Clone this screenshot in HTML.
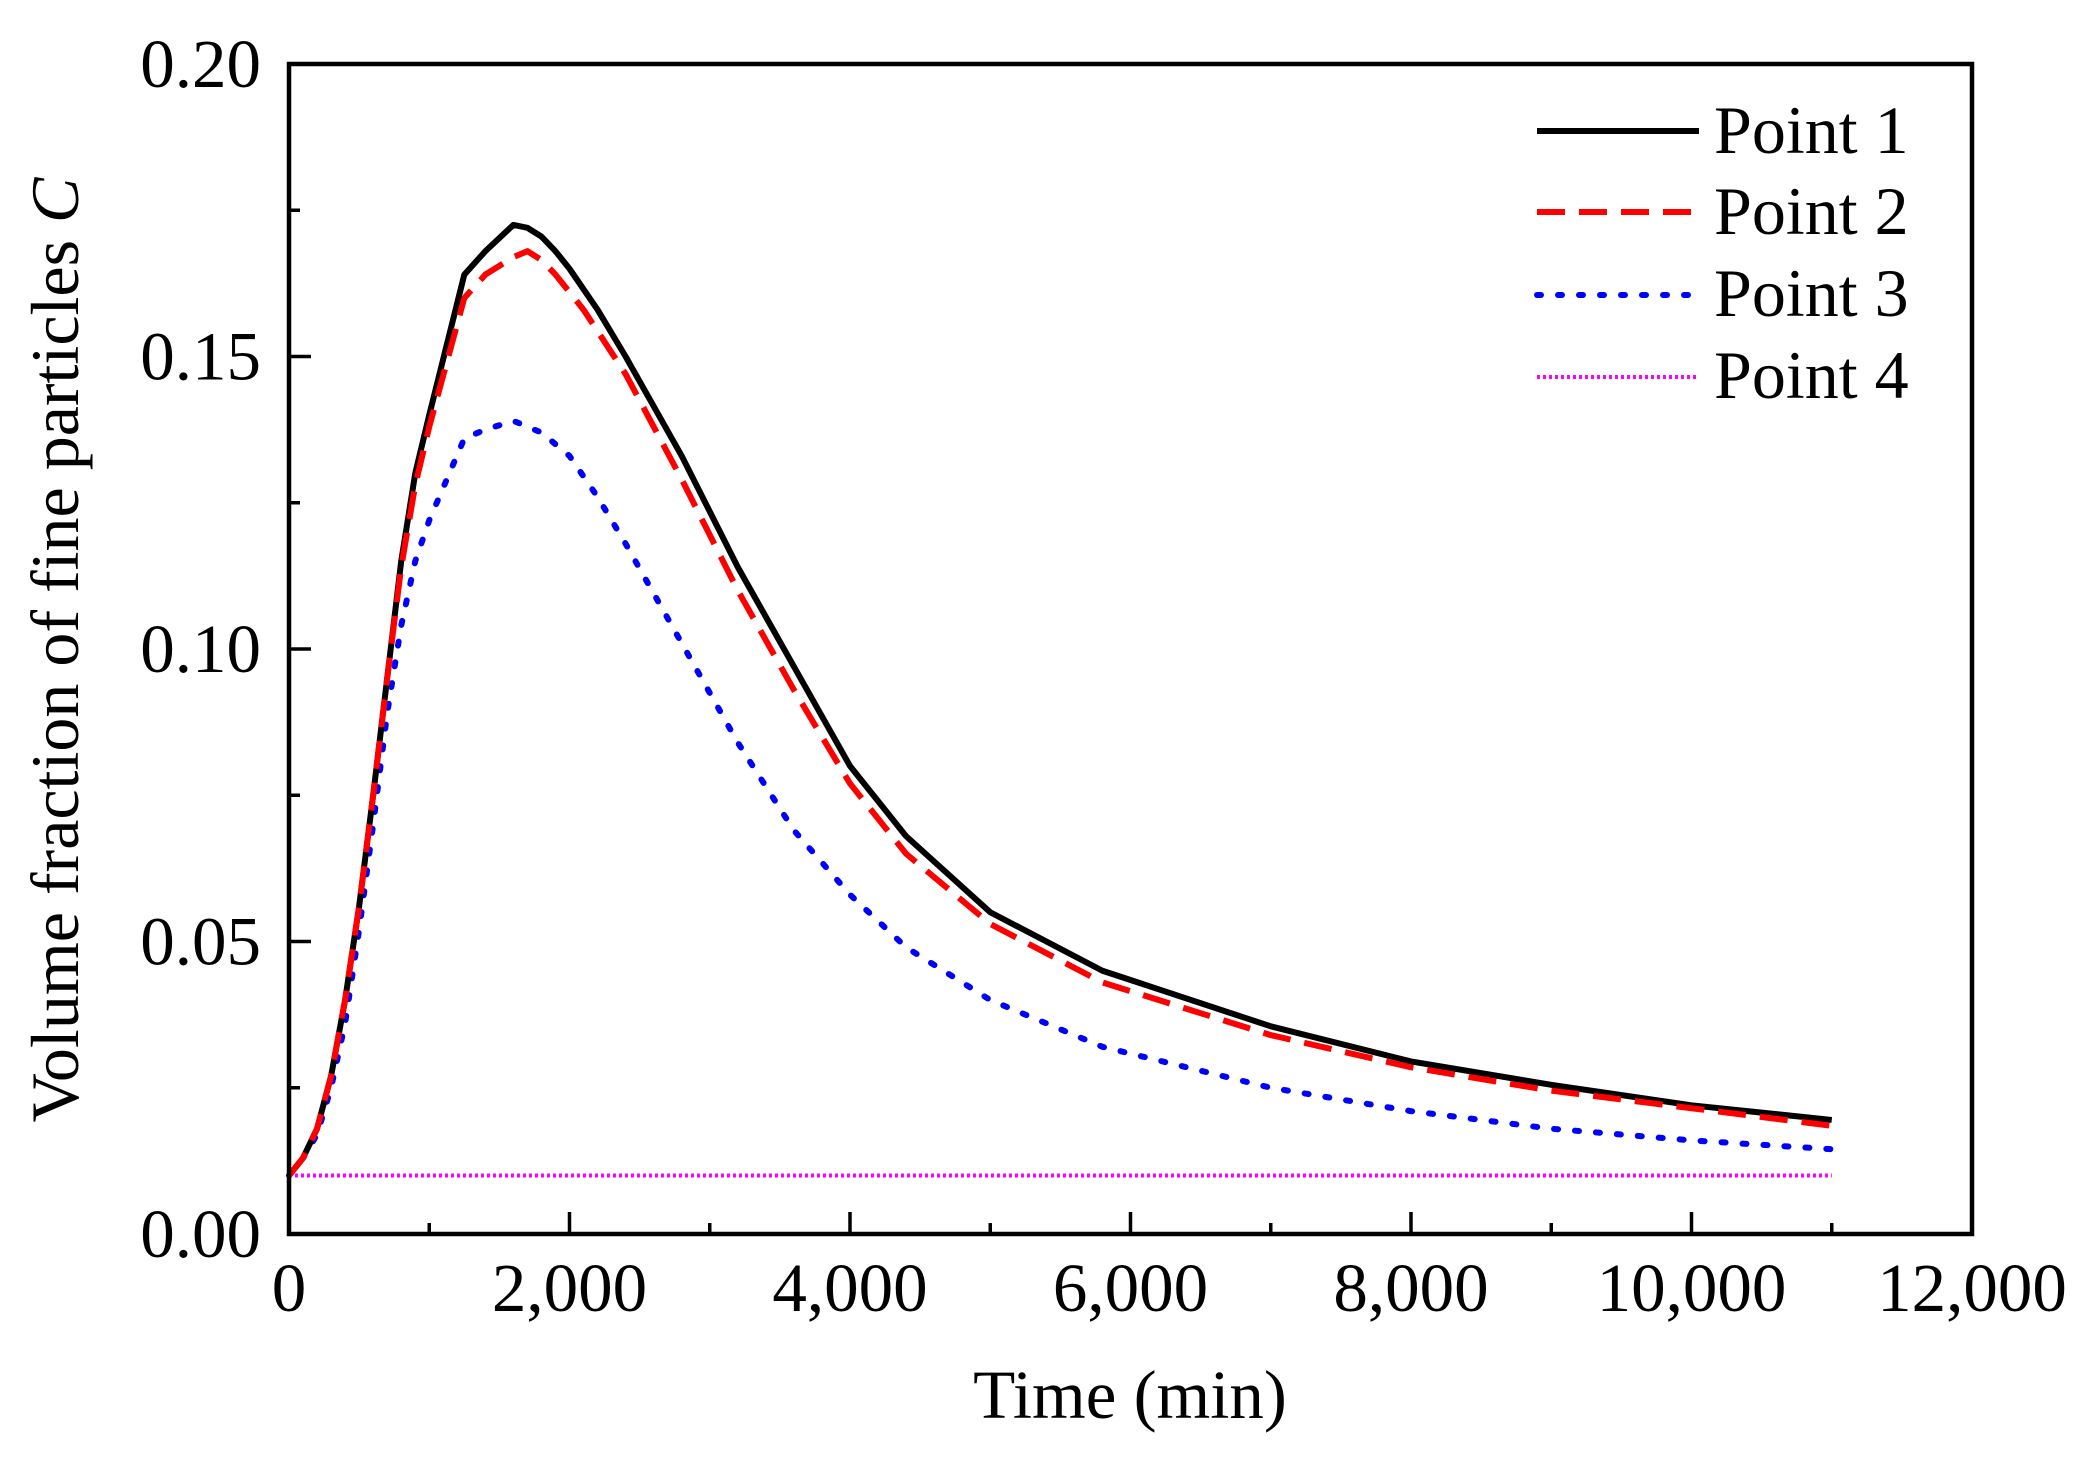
<!DOCTYPE html>
<html><head><meta charset="utf-8"><style>
html,body{margin:0;padding:0;background:#fff;}
svg{display:block;font-family:"Liberation Serif",serif;}
</style></head><body>
<svg id="s" width="2081" height="1459" viewBox="0 0 2081 1459" xmlns="http://www.w3.org/2000/svg">
<rect width="2081" height="1459" fill="#fff"/>
<g id="data"></g>
<rect x="289" y="64" width="1683" height="1170" fill="none" stroke="#000" stroke-width="4.5"/>
<g id="ticks" stroke="#000" stroke-width="3.5"></g>
<g font-size="69" fill="#000">
<g text-anchor="middle" id="xl"></g>
<g text-anchor="end" id="yl"></g>
<text x="1130" y="1418" text-anchor="middle">Time (min)</text>
<text transform="translate(78,650) rotate(-90)" text-anchor="middle" font-size="68">Volume fraction of fine particles <tspan font-style="italic">C</tspan></text>
<g font-size="68">
<text x="1714" y="153">Point 1</text>
<text x="1714" y="234">Point 2</text>
<text x="1714" y="316">Point 3</text>
<text x="1714" y="398">Point 4</text>
</g>
</g>
<line x1="1537" y1="131" x2="1699" y2="131" stroke="#000" stroke-width="6"/>
<line x1="1537" y1="212" x2="1699" y2="212" stroke="#f00" stroke-width="6" stroke-dasharray="28,14"/>
<line x1="1537" y1="295" x2="1699" y2="295" stroke="#00f" stroke-width="6" stroke-dasharray="4,17" stroke-linecap="round"/>
<line x1="1537" y1="377" x2="1699" y2="377" stroke="#f0f" stroke-width="4" stroke-dasharray="3,3"/>
</svg>
<script>
var NS="http://www.w3.org/2000/svg";
function X(t){return 289+t*1683/12000;}
function Y(c){return 1234-c*5850;}
function el(p,tag,a,txt){var e=document.createElementNS(NS,tag);for(var k in a)e.setAttribute(k,a[k]);if(txt!==undefined)e.textContent=txt;p.appendChild(e);return e;}
var tk=document.getElementById('ticks');
for(var t=1000;t<12000;t+=1000){var L=(t%2000==0)?22:11;el(tk,'line',{x1:X(t),y1:1234,x2:X(t),y2:1234-L});}
for(var i=1;i<8;i++){var c=i*0.025;var L=(i%2==0)?22:11;el(tk,'line',{x1:289,y1:Y(c),x2:289+L,y2:Y(c)});}
var xl=document.getElementById('xl');
var xs=["0","2,000","4,000","6,000","8,000","10,000","12,000"];
for(var i=0;i<7;i++)el(xl,'text',{x:X(i*2000),y:1311},xs[i]);
var yl=document.getElementById('yl');
var ys=["0.00","0.05","0.10","0.15","0.20"];
for(var i=0;i<5;i++)el(yl,'text',{x:261,y:Y(i*0.05)+23},ys[i]);
function path(pts){var d="M"+X(pts[0][0])+","+Y(pts[0][1]);
for(var i=1;i<pts.length;i++){d+=" L"+X(pts[i][0])+","+Y(pts[i][1]);}return d;}
var p1=[[0,0.010],[100,0.013],[200,0.018],[300,0.027],[400,0.040],[500,0.056],[600,0.075],[700,0.095],[800,0.115],[900,0.130],[1000,0.140],[1250,0.164],[1400,0.168],[1600,0.1725],[1700,0.172],[1800,0.1705],[1900,0.168],[2000,0.165],[2200,0.158],[2400,0.150],[2800,0.133],[3200,0.114],[3600,0.097],[4000,0.080],[4400,0.068],[5000,0.055],[5800,0.045],[7000,0.0355],[8000,0.0295],[9000,0.0255],[10000,0.022],[11000,0.0195]];
var p2=[[0,0.010],[100,0.013],[200,0.018],[300,0.027],[400,0.040],[500,0.056],[600,0.075],[700,0.095],[800,0.114],[900,0.128],[1000,0.138],[1250,0.160],[1400,0.164],[1600,0.167],[1700,0.168],[1800,0.1665],[1900,0.164],[2100,0.158],[2400,0.147],[2800,0.129],[3200,0.110],[3600,0.093],[4000,0.077],[4400,0.065],[5000,0.053],[5800,0.043],[7000,0.034],[8000,0.0285],[9000,0.0245],[10000,0.0215],[11000,0.0185]];
var p3=[[0,0.010],[100,0.013],[200,0.017],[300,0.025],[400,0.036],[500,0.052],[600,0.070],[700,0.089],[800,0.104],[900,0.115],[1000,0.122],[1250,0.136],[1400,0.1375],[1600,0.139],[1800,0.137],[2000,0.133],[2200,0.126],[2400,0.118],[2800,0.101],[3200,0.084],[3600,0.069],[4000,0.058],[4400,0.049],[5000,0.040],[5800,0.032],[7000,0.025],[8000,0.021],[9000,0.018],[10000,0.016],[11000,0.0145]];
var g=document.getElementById('data');
el(g,'path',{d:path([[0,0.01],[11000,0.01]]),fill:'none',stroke:'#f0f','stroke-width':4,'stroke-dasharray':'3,3'});
el(g,'path',{d:path(p3),fill:'none',stroke:'#00f','stroke-width':6,'stroke-dasharray':'4,17','stroke-linecap':'round','stroke-linejoin':'round'});
el(g,'path',{d:path(p1),fill:'none',stroke:'#000','stroke-width':6,'stroke-linejoin':'round'});
el(g,'path',{d:path(p2),fill:'none',stroke:'#f00','stroke-width':6,'stroke-dasharray':'28,14','stroke-linejoin':'round'});
</script>
</body></html>
